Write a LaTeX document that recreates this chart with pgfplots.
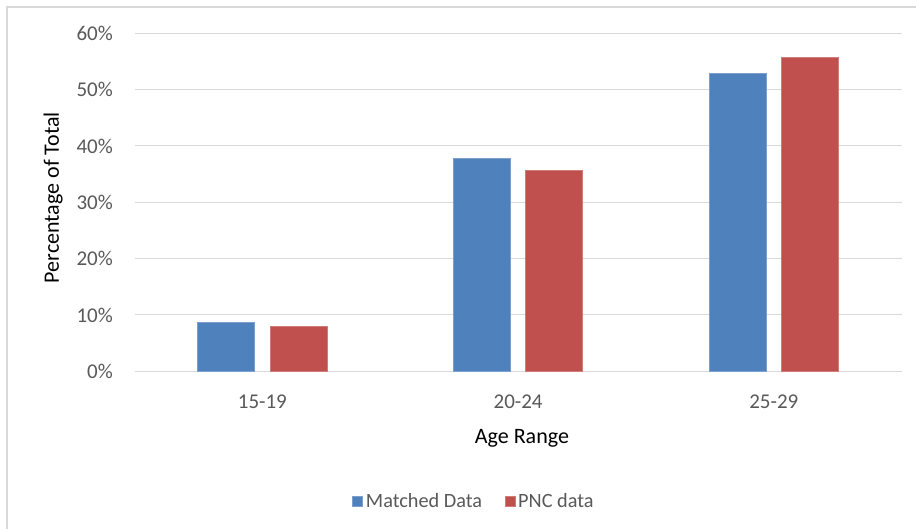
\documentclass[border=0pt]{standalone}
\usepackage{fontspec}
\setmainfont{Carlito}
\usepackage{pgfplots}
\pgfplotsset{compat=1.18}

\definecolor{matched}{HTML}{4F81BD}
\definecolor{pnc}{HTML}{C0504D}
\definecolor{gridgray}{HTML}{D9D9D9}
\definecolor{ticktext}{HTML}{595959}

\begin{document}
\begin{tikzpicture}[x=0.75pt,y=0.75pt]
\useasboundingbox (0,0) rectangle (916,529);
\fill[white] (0,0) rectangle (916,529);
% chart frame
\draw[gridgray, line width=1.5pt] (7,0) -- (7,522) -- (916,522);
\begin{axis}[
  at={(100.875pt,118.275pt)}, anchor=south west,
  scale only axis, width=575.4pt, height=253.5pt,
  xmin=-0.5, xmax=2.5, ymin=0, ymax=60,
  xtick={0,1,2}, xticklabels={15-19,20-24,25-29},
  ytick={0,10,...,60},
  yticklabel={\pgfmathprintnumber{\tick}\%},
  /pgf/number format/assume math mode=true,
  axis line style={draw=none},
  major tick length=0pt,
  ymajorgrids,
  major grid style={gridgray, line width=0.75pt},
  yticklabel style={font=\fontsize{15.75}{18}\selectfont, text=ticktext, inner sep=0pt, anchor=east, xshift=-16pt},
  xticklabel style={font=\fontsize{15.75}{18}\selectfont, text=ticktext, inner sep=0pt, anchor=center, yshift=-22.8pt},
  xlabel={Age Range},
  ylabel={Percentage of Total},
  xlabel style={font=\fontsize{16.5}{19}\selectfont, at={(axis description cs:0.505,-0.197)}, anchor=center},
  ylabel style={font=\fontsize{16.5}{19}\selectfont, at={(axis description cs:-0.106,0.514)}, anchor=center, rotate=0},
  legend style={draw=none, fill=none, at={(0.443,-0.384)}, anchor=center,
    font=\fontsize{15.2}{18}\selectfont, text=ticktext,
    /tikz/every even column/.append style={column sep=15pt}},
  legend columns=2,
  legend image code/.code={\fill[#1] (-2.25pt,-3.75pt) rectangle (5.25pt,3.75pt);},
]
\addplot[ybar, bar width=42.75pt, bar shift=-27.2pt, fill=matched, draw=matched!75!white, line width=0.6pt]
  coordinates {(0,8.7) (1,37.8) (2,52.8)};
\addplot[ybar, bar width=42.75pt, bar shift=27.2pt, fill=pnc, draw=pnc!75!white, line width=0.6pt]
  coordinates {(0,7.9) (1,35.7) (2,55.7)};
\legend{Matched Data, PNC data}
\end{axis}
\end{tikzpicture}
\end{document}
